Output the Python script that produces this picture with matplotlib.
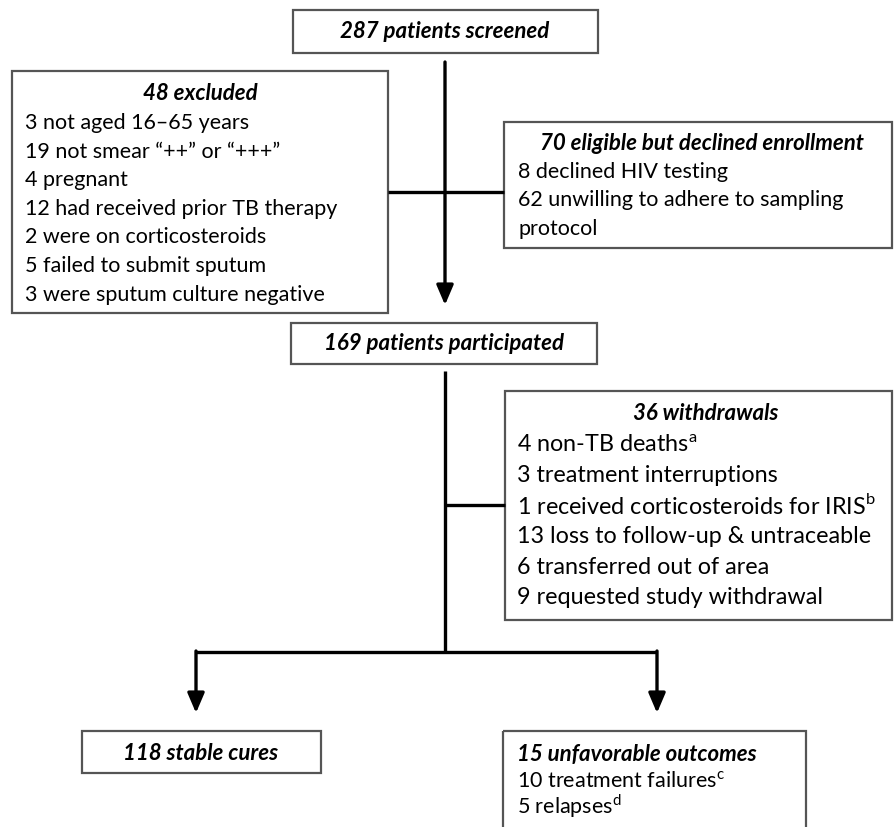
import matplotlib
matplotlib.use("Agg")
import matplotlib.pyplot as plt
from matplotlib.patches import Rectangle

plt.rcParams['font.family'] = ['Lato', 'DejaVu Sans']
plt.rcParams['mathtext.fontset'] = 'custom'
plt.rcParams['mathtext.rm'] = 'Lato'

# flow chart content
screened_title = "287 patients screened"
excluded_title = "48 excluded"
excluded_items = ["3 not aged 16\u201365 years",
                  "19 not smear \u201c++\u201d or \u201c+++\u201d",
                  "4 pregnant",
                  "12 had received prior TB therapy",
                  "2 were on corticosteroids",
                  "5 failed to submit sputum",
                  "3 were sputum culture negative"]
declined_title = "70 eligible but declined enrollment"
declined_items = ["8 declined HIV testing",
                  "62 unwilling to adhere to sampling",
                  "protocol"]
participated_title = "169 patients participated"
withdrawn_title = "36 withdrawals"
withdrawn_items = ["4 non-TB deaths$^{\\mathrm{a}}$",
                   "3 treatment interruptions",
                   "1 received corticosteroids for IRIS$^{\\mathrm{b}}$",
                   "13 loss to follow-up & untraceable",
                   "6 transferred out of area",
                   "9 requested study withdrawal"]
cured_title = "118 stable cures"
unfav_title = "15 unfavorable outcomes"
unfav_items = ["10 treatment failures$^{\\mathrm{c}}$",
               "5 relapses$^{\\mathrm{d}}$"]

W, H = 894, 827
fig = plt.figure(figsize=(W / 100, H / 100), dpi=100)
ax = fig.add_axes([0, 0, 1, 1])
ax.set_xlim(0, W)
ax.set_ylim(H, 0)
ax.axis('off')

FS = 15.5
FS_T = 16
BOX_EC = '#555555'


def box(x0, y0, x1, y1):
    ax.add_patch(Rectangle((x0, y0), x1 - x0, y1 - y0, fill=False,
                           edgecolor=BOX_EC, lw=1.6, clip_on=True))


def title(x, y, s, ha='center'):
    ax.text(x, y, s, ha=ha, va='center', fontsize=FS_T, fontweight='bold',
            fontstyle='italic')


def items(x, y0, lines, step, fs=FS):
    for i, s in enumerate(lines):
        ax.text(x, y0 + i * step, s, ha='left', va='center', fontsize=fs)


def line(xs, ys):
    ax.plot(xs, ys, color='black', lw=2.4, solid_capstyle='butt')


def arrow(x, y0, y1):
    ax.annotate('', xy=(x, y1), xytext=(x, y0),
                arrowprops=dict(arrowstyle='-|>,head_length=0.75,head_width=0.32',
                                color='black', lw=2.4, mutation_scale=16,
                                shrinkA=0, shrinkB=0))


# top box
box(293, 10, 598, 53)
title(445, 32, screened_title)

# excluded
box(12, 71, 388, 313)
title(200, 93, excluded_title)
items(25, 123, excluded_items, 28.6)

# declined
box(504, 122, 892, 248)
title(702, 144, declined_title)
items(518, 172, declined_items, 28.5)

arrow(445, 62, 305)
line([388, 504], [192, 192])

# participated
box(291, 323, 597, 364)
title(444, 344, participated_title)

# withdrawals
box(505, 391, 892, 620)
title(706, 414, withdrawn_title)
items(517, 445, withdrawn_items, 30.5, fs=16.8)

line([445, 445], [371, 652])
line([445, 505], [505, 505])
line([196, 657], [652, 652])
arrow(196, 651, 713)
arrow(657, 651, 713)

# outcomes
box(82, 731, 321, 773)
title(201, 753, cured_title)

box(503, 731, 806, 840)
title(517, 755, unfav_title, ha='left')
items(517, 781, unfav_items, 25.5)

fig.savefig("out.png", dpi=100, facecolor='white')
